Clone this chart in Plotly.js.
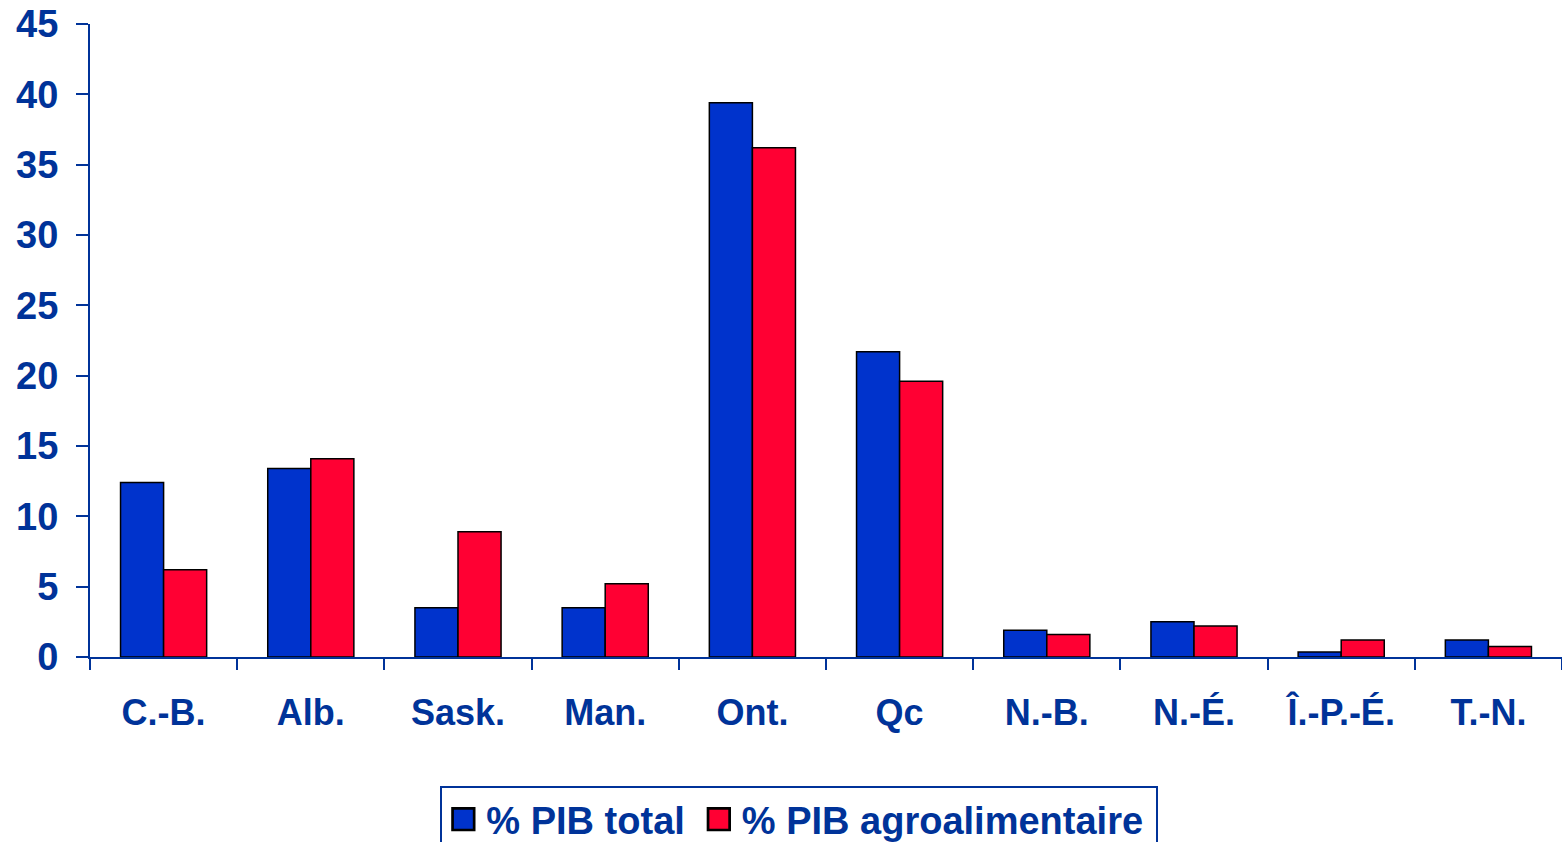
<!DOCTYPE html>
<html>
<head>
<meta charset="utf-8">
<script src="https://cdn.plot.ly/plotly-3.0.1.min.js"></script>
<style>html,body{margin:0;padding:0;background:#fff;}#chart{width:1562px;height:842px;}</style>
</head>
<body>
<div id="chart"></div>
<script>
const provinces = ["C.-B.", "Alb.", "Sask.", "Man.", "Ont.", "Qc", "N.-B.", "N.-É.", "Î.-P.-É.", "T.-N."];
const pibTotal = [12.4, 13.4, 3.5, 3.5, 39.4, 21.7, 1.9, 2.5, 0.35, 1.2];
const pibAgro = [6.2, 14.1, 8.9, 5.2, 36.2, 19.6, 1.6, 2.2, 1.2, 0.75];
const seriesNames = ["% PIB total", "% PIB agroalimentaire"];
const yTicks = [0, 5, 10, 15, 20, 25, 30, 35, 40, 45];

const textColor = "#003399";
const fontFam = "'Liberation Sans', Arial, sans-serif";

const traces = [
  {type: "bar", name: seriesNames[0], x: provinces, y: pibTotal,
   marker: {color: "#0033CC", line: {color: "#000000", width: 1.5}}},
  {type: "bar", name: seriesNames[1], x: provinces, y: pibAgro,
   marker: {color: "#FF0033", line: {color: "#000000", width: 1.5}}}
];

const layout = {
  width: 1562, height: 842,
  margin: {l: 90, r: 0, t: 24, b: 185, autoexpand: false},
  paper_bgcolor: "#ffffff", plot_bgcolor: "#ffffff",
  font: {family: fontFam, color: textColor, size: 36, weight: 700},
  barmode: "group", bargap: 0.415, bargroupgap: 0,
  showlegend: true,
  legend: {orientation: "h", x: 0.4819, xanchor: "center", y: -0.2038, yanchor: "top",
           bordercolor: textColor, borderwidth: 2, bgcolor: "#ffffff", itemwidth: 42,
           font: {family: fontFam, size: 38, color: textColor, weight: 700},
           traceorder: "normal"},
  xaxis: {type: "category", showline: true, linecolor: textColor, linewidth: 2,
          ticks: "outside", tickson: "boundaries", ticklen: 11, tickcolor: textColor, tickwidth: 2,
          ticklabelstandoff: 23,
          showgrid: false, zeroline: false,
          tickfont: {family: fontFam, size: 36, color: textColor, weight: 700}, fixedrange: true},
  yaxis: {range: [0, 45], tickvals: yTicks, showline: true, linecolor: textColor, linewidth: 2,
          ticks: "outside", ticklen: 12, tickcolor: textColor, tickwidth: 2,
          ticklabelstandoff: 10,
          showgrid: false, zeroline: false,
          tickfont: {family: fontFam, size: 38, color: textColor, weight: 700}, fixedrange: true}
};

Plotly.newPlot("chart", traces, layout, {displayModeBar: false, staticPlot: true}).then(function (gd) {
  gd.querySelectorAll(".legend .legendpoints path").forEach(function (p) {
    const t = p.getAttribute("transform") || "";
    p.setAttribute("transform", t + " translate(-5,0) scale(1.8)");
  });
  gd.querySelectorAll(".legend .legendtext").forEach(function (el) {
    const x = parseFloat(el.getAttribute("x") || "0");
    el.setAttribute("x", x - 8);
  });
});
</script>
</body>
</html>
